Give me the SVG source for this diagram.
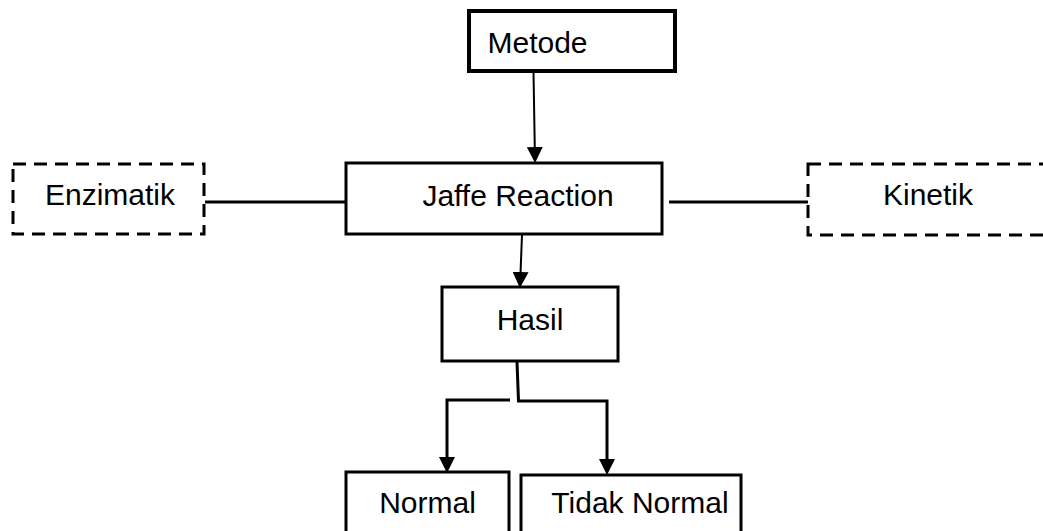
<svg xmlns="http://www.w3.org/2000/svg" width="1043" height="531" viewBox="0 0 1043 531">
<style>
.box{fill:#fff;stroke:#000;stroke-width:3}
.dash{fill:#fff;stroke:#000;stroke-width:3;stroke-dasharray:13 8}
.t{font-family:"Liberation Sans",Arial,sans-serif;font-size:30px;fill:#000;text-anchor:middle}
.c{fill:none;stroke:#000;stroke-width:2}
.c3{fill:none;stroke:#000;stroke-width:3}
</style>
<defs>
<marker id="ah" markerWidth="8" markerHeight="8" refX="7" refY="4" orient="auto" markerUnits="strokeWidth">
<path d="M0,0 L8,4 L0,8 Z" fill="#000"/>
</marker>
</defs>
<rect width="1043" height="531" fill="#fff"/>
<g id="connectors">
<line class="c" x1="533.5" y1="72" x2="535" y2="161" marker-end="url(#ah)"/>
<line class="c3" x1="205" y1="202" x2="346" y2="202"/>
<line class="c3" x1="669" y1="202" x2="808" y2="202"/>
<line class="c" x1="522" y1="235" x2="520" y2="286" marker-end="url(#ah)"/>
<polyline class="c3" points="517,362 518.5,401 607,401 607,460"/>
<line class="c" x1="607" y1="455" x2="607" y2="473" marker-end="url(#ah)"/>
<polyline class="c3" points="510,400 447,400 447,458"/>
<line class="c" x1="447" y1="455" x2="447" y2="471" marker-end="url(#ah)"/>
</g>
<g id="metode">
<rect x="469" y="11" width="206" height="60" style="fill:#fff;stroke:#000;stroke-width:4"/>
<text class="t" x="537.5" y="53">Metode</text>
</g>
<g id="jaffe">
<rect class="box" x="346" y="163" width="316" height="71"/>
<text class="t" x="518" y="206">Jaffe Reaction</text>
</g>
<g id="enzimatik">
<rect class="dash" x="13" y="164" width="191" height="70"/>
<text class="t" x="110" y="205">Enzimatik</text>
</g>
<g id="kinetik">
<rect class="dash" x="808" y="164" width="250" height="71"/>
<text class="t" x="928" y="205">Kinetik</text>
</g>
<g id="hasil">
<rect class="box" x="442" y="287" width="176" height="74"/>
<text class="t" x="530" y="330">Hasil</text>
</g>
<g id="normal">
<rect class="box" x="346" y="472" width="163" height="70"/>
<text class="t" x="427.5" y="513">Normal</text>
</g>
<g id="tidak-normal">
<rect class="box" x="521" y="475" width="220" height="70"/>
<text class="t" x="640" y="513">Tidak Normal</text>
</g>
</svg>
